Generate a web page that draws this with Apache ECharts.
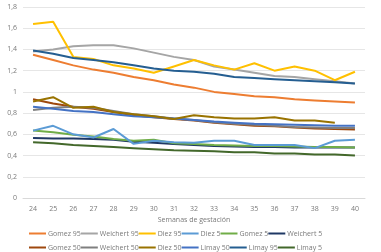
<!DOCTYPE html>
<html>
<head>
<meta charset="utf-8">
<script src="https://cdn.jsdelivr.net/npm/echarts@6/dist/echarts.min.js"></script>
<style>
  html, body { margin: 0; padding: 0; background: #fff; }
  #chart { width: 381px; height: 252px; }
</style>
</head>
<body>
<div id="chart"></div>
<script>
// semanas de gestación
var weeks = ['24', '25', '26', '27', '28', '29', '30', '31', '32', '33', '34', '35', '36', '37', '38', '39', '40'];

var gomez95    = [1.35, 1.30, 1.25, 1.21, 1.18, 1.14, 1.11, 1.07, 1.04, 1.00, 0.98, 0.96, 0.95, 0.93, 0.92, 0.91, 0.90];
var weichert95 = [1.38, 1.40, 1.43, 1.44, 1.44, 1.41, 1.37, 1.33, 1.30, 1.24, 1.21, 1.18, 1.15, 1.14, 1.12, 1.10, 1.08];
var diez95     = [1.64, 1.66, 1.33, 1.31, 1.25, 1.22, 1.18, 1.24, 1.30, 1.25, 1.21, 1.27, 1.20, 1.24, 1.20, 1.11, 1.19];
var diez5      = [0.635, 0.68, 0.60, 0.57, 0.65, 0.51, 0.54, 0.525, 0.52, 0.54, 0.54, 0.50, 0.50, 0.50, 0.47, 0.54, 0.55];
var gomez5     = [0.635, 0.62, 0.595, 0.58, 0.555, 0.54, 0.55, 0.515, 0.51, 0.50, 0.495, 0.49, 0.49, 0.485, 0.48, 0.48, 0.475];
var weichert5  = [0.565, 0.56, 0.56, 0.555, 0.55, 0.53, 0.52, 0.51, 0.50, 0.49, 0.485, 0.48, 0.48, 0.475, 0.475, 0.475, 0.475];
var gomez50    = [0.93, 0.89, 0.86, 0.84, 0.81, 0.78, 0.76, 0.745, 0.73, 0.71, 0.695, 0.68, 0.675, 0.665, 0.655, 0.65, 0.645];
var weichert50 = [0.83, 0.85, 0.86, 0.85, 0.82, 0.79, 0.77, 0.75, 0.735, 0.715, 0.70, 0.69, 0.68, 0.67, 0.665, 0.66, 0.66];
var diez50     = [0.91, 0.95, 0.85, 0.86, 0.81, 0.79, 0.77, 0.745, 0.78, 0.76, 0.75, 0.75, 0.76, 0.73, 0.73, 0.71, null];
var limay50    = [0.86, 0.84, 0.82, 0.81, 0.79, 0.77, 0.76, 0.75, 0.735, 0.72, 0.71, 0.70, 0.695, 0.69, 0.685, 0.68, 0.68];
var limay95    = [1.39, 1.36, 1.32, 1.30, 1.28, 1.25, 1.22, 1.20, 1.19, 1.17, 1.14, 1.13, 1.12, 1.11, 1.10, 1.09, 1.08];
var limay5     = [0.525, 0.515, 0.50, 0.49, 0.48, 0.47, 0.46, 0.45, 0.445, 0.44, 0.43, 0.43, 0.42, 0.42, 0.41, 0.41, 0.40];

var yTicks = [0, 0.2, 0.4, 0.6, 0.8, 1, 1.2, 1.4, 1.6, 1.8];

var row1 = ['Gomez 95', 'Weichert 95', 'Diez 95', 'Diez 5', 'Gomez 5', 'Weichert 5'];
var row2 = ['Gomez 50', 'Weichert 50', 'Diez 50', 'Limay 50', 'Limay 95', 'Limay 5'];

// orden de dibujo
var lines = [
  { name: 'Limay 5', data: limay5, color: '#43682B' },
  { name: 'Weichert 5', data: weichert5, color: '#1F3864' },
  { name: 'Gomez 5', data: gomez5, color: '#70AD47' },
  { name: 'Diez 5', data: diez5, color: '#5B9BD5' },
  { name: 'Gomez 50', data: gomez50, color: '#9E480E' },
  { name: 'Weichert 50', data: weichert50, color: '#7F7F7F' },
  { name: 'Limay 50', data: limay50, color: '#4472C4' },
  { name: 'Diez 50', data: diez50, color: '#997300' },
  { name: 'Gomez 95', data: gomez95, color: '#ED7D31' },
  { name: 'Weichert 95', data: weichert95, color: '#A5A5A5' },
  { name: 'Diez 95', data: diez95, color: '#FFC000' },
  { name: 'Limay 95', data: limay95, color: '#255E91' }
];

var font = 'Open Sans';
var textColor = '#7a7a7a';

function legendRow(names, top) {
  return {
    data: names,
    top: top,
    left: 29,
    orient: 'horizontal',
    icon: 'rect',
    itemWidth: 17,
    itemHeight: 2,
    itemGap: 0,
    padding: 0,
    textStyle: { fontFamily: font, fontSize: 7, color: textColor, width: 31, padding: [0, 0, 0, -3] }
  };
}

var chart = echarts.init(document.getElementById('chart'));
chart.setOption({
  animation: false,
  backgroundColor: '#fff',
  grid: { left: 23, right: 16, top: 7, bottom: 54 },
  legend: [legendRow(row1, 230), legendRow(row2, 244)],
  xAxis: {
    type: 'category',
    data: weeks,
    name: 'Semanas de gestación',
    nameLocation: 'middle',
    nameGap: 17,
    nameTextStyle: { fontFamily: font, fontSize: 7, color: textColor },
    axisLine: { lineStyle: { color: '#d9d9d9' } },
    axisTick: { show: false },
    axisLabel: { fontFamily: font, fontSize: 7, color: textColor, margin: 7 }
  },
  yAxis: {
    type: 'value',
    min: yTicks[0],
    max: yTicks[yTicks.length - 1],
    interval: 0.2,
    axisLine: { show: false },
    axisTick: { show: false },
    splitLine: { lineStyle: { color: '#e6e6e6' } },
    axisLabel: {
      fontFamily: font, fontSize: 7, color: textColor, margin: 6,
      formatter: function (v) { return String(Math.round(v * 10) / 10).replace('.', ','); }
    }
  },
  series: lines.map(function (l) {
    return {
      name: l.name,
      type: 'line',
      data: l.data,
      symbol: 'none',
      lineStyle: { width: 2, color: l.color },
      itemStyle: { color: l.color }
    };
  })
});
</script>
</body>
</html>
